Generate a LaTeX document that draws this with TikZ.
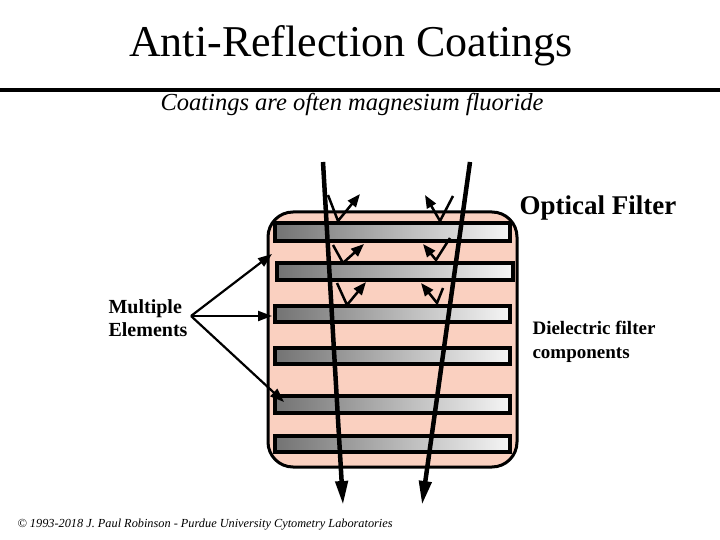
\documentclass[tikz,border=0pt]{standalone}
\usepackage{fontspec}
\setmainfont{Liberation Serif}
\usetikzlibrary{arrows.meta}
\definecolor{pinkfill}{RGB}{250,208,192}
\tikzset{
  bar/.style={draw=black,line width=3.5pt,left color=gray!90!black,right color=gray!8},
  ray/.style={line width=4.5pt,-{Triangle[length=24pt,width=12pt]}},
  refl/.style={line width=2.5pt,-{Triangle[length=13pt,width=10pt]}},
  pointer/.style={line width=2.2pt,-{Triangle[length=14pt,width=10pt]}},
  lbl/.style={font=\bfseries\fontsize{20}{23}\selectfont,align=left}
}
\begin{document}
\begin{tikzpicture}[x=1pt,y=-1pt]
\useasboundingbox (0,0) rectangle (720,540);
\node (title) at (351,46) {\fontsize{44}{46}\selectfont Anti-Reflection Coatings};
\draw[line width=4pt] (0,90) -- (720,90);
\node (sub) at (352,104) {\itshape\fontsize{24.5}{26}\selectfont Coatings are often magnesium fluoride};
\node[draw=black,line width=3pt,fill=pinkfill,rounded corners=25pt,minimum width=249pt,minimum height=255pt] (filter) at (392.5,339.5) {};
\node[bar,minimum width=235pt,minimum height=18pt] (b1) at (392.5,232) {};
\node[bar,minimum width=236pt,minimum height=17pt] (b2) at (395,271.5) {};
\node[bar,minimum width=235pt,minimum height=16pt] (b3) at (392.5,314) {};
\node[bar,minimum width=235pt,minimum height=16pt] (b4) at (392.5,356) {};
\node[bar,minimum width=235pt,minimum height=17pt] (b5) at (392.5,404.5) {};
\node[bar,minimum width=235pt,minimum height=16pt] (b6) at (392.5,444) {};
\coordinate (l0) at (323,162); \coordinate (l1) at (343,505);
\coordinate (r0) at (470,162); \coordinate (r1) at (422,505);
\draw[ray] (l0) -- (l1);
\draw[ray] (r0) -- (r1);
\coordinate (a1) at (328,195); \coordinate (v1) at (338,221); \coordinate (e1) at (360,194);
\coordinate (a2) at (333,245); \coordinate (v2) at (343,263); \coordinate (e2) at (364,244);
\coordinate (a3) at (337,283); \coordinate (v3) at (347,305); \coordinate (e3) at (366,282);
\coordinate (c1) at (453,196); \coordinate (w1) at (440,221); \coordinate (f1) at (425,195);
\coordinate (c2) at (450,238); \coordinate (w2) at (436,260); \coordinate (f2) at (423,244);
\coordinate (c3) at (443,288); \coordinate (w3) at (437,303); \coordinate (f3) at (421,283);
\draw[refl] (a1) -- (v1) -- (e1);
\draw[refl] (a2) -- (v2) -- (e2);
\draw[refl] (a3) -- (v3) -- (e3);
\draw[refl] (c1) -- (w1) -- (f1);
\draw[refl] (c2) -- (w2) -- (f2);
\draw[refl] (c3) -- (w3) -- (f3);
\node[lbl] (multi) at (148,318) {Multiple\\Elements};
\coordinate (p) at (191,316);
\draw[pointer] (p) -- (272,254);
\draw[pointer] (p) -- (272,316);
\draw[pointer] (p) -- (284,402);
\node[lbl,anchor=west,font=\bfseries\fontsize{19}{24}\selectfont] (diel) at (529,342) {Dielectric filter\\components};
\node[font=\bfseries\fontsize{27}{29}\selectfont] (opt) at (598,208) {Optical Filter};
\node[font=\itshape\fontsize{12.3}{13}\selectfont,anchor=west] (copy) at (14,525) {© 1993-2018 J. Paul Robinson - Purdue University Cytometry Laboratories};
\end{tikzpicture}
\end{document}
